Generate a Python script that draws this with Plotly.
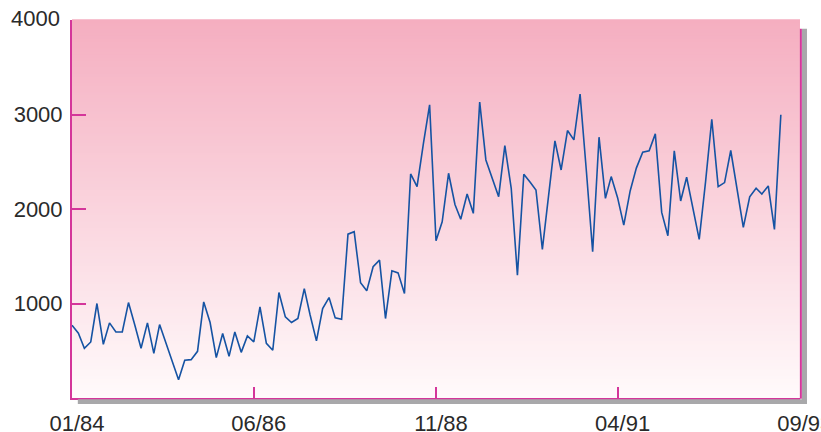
import pandas as pd
import plotly.graph_objects as go

# Monthly series, Jan 1984 – Jun 1993
start_month = "1984-01-01"
values = [
    769, 685, 526, 593, 1000, 568, 795, 699, 699, 1010,
    770, 526, 795, 473, 777, 579, 388, 194, 399, 406,
    494, 1017, 799, 427, 682, 441, 699, 483, 656, 593,
    964, 579, 505, 1116, 858, 799, 841, 1158, 881, 604,
    947, 1063, 848, 834, 1734, 1760, 1219, 1134, 1389, 1459,
    841, 1346, 1324, 1106, 2371, 2237, 2695, 3103, 1664, 1865,
    2378, 2048, 1891, 2159, 1954, 3131, 2519, 2322, 2130, 2671,
    2219, 1300, 2367, 2282, 2201, 1572, 2140, 2721, 2413, 2830,
    2732, 3216, 2392, 1547, 2760, 2113, 2343, 2120, 1830, 2191,
    2433, 2601, 2615, 2795, 1964, 1717, 2615, 2085, 2336, 1990,
    1678, 2292, 2950, 2237, 2279, 2619, 2191, 1806, 2130, 2219,
    2159, 2244, 1784, 2997,
]
months = pd.date_range(start_month, periods=len(values), freq="MS")

x_tick_dates = ["1984-01-01", "1986-06-01", "1988-11-01", "1991-04-01", "1993-09-01"]
x_tick_labels = ["01/84", "06/86", "11/88", "04/91", "09/93"]
x_range = ["1984-01-01", "1993-09-02"]
y_tick_vals = [1000, 2000, 3000]
y_tick_labels = ["1000", "2000", "3000"]
y_top_label = "4000"

AXIS = "#d4369a"
LINE = "#1553a3"
SHADOW = "#a8a8aa"
TXT = "#2a2a2a"
FONT = dict(family="Liberation Sans, Arial, sans-serif", size=22, color=TXT)

fig = go.Figure()
fig.add_trace(go.Scatter(
    x=months, y=values, mode="lines",
    line=dict(color=LINE, width=1.6),
    hoverinfo="skip", showlegend=False,
))

shapes = []
# vertical pink gradient behind the series
top_rgb = (245, 174, 192)
bot_rgb = (255, 250, 251)
n_bands = 120
for i in range(n_bands):
    f = (i + 0.5) / n_bands
    r, g, b = (round(bot_rgb[k] + (top_rgb[k] - bot_rgb[k]) * f) for k in range(3))
    shapes.append(dict(
        type="rect", xref="x domain", yref="y domain",
        x0=0, x1=1, y0=i / n_bands, y1=(i + 1) / n_bands + 0.002,
        fillcolor=f"rgb({r},{g},{b})", line=dict(width=0), layer="below",
    ))

# drop shadow to the right and below the frame
shapes.append(dict(type="rect", xref="x domain", yref="y domain",
                   x0=1.0027, x1=1.0096, y0=-0.016, y1=0.977,
                   fillcolor=SHADOW, line=dict(width=0), layer="above"))
shapes.append(dict(type="rect", xref="x domain", yref="y domain",
                   x0=0.008, x1=1.0096, y0=-0.016, y1=-0.003,
                   fillcolor=SHADOW, line=dict(width=0), layer="above"))
# right frame edge
shapes.append(dict(type="line", xref="x domain", yref="y domain",
                   x0=1.0012, x1=1.0012, y0=-0.002, y1=0.977,
                   line=dict(color=AXIS, width=2), layer="above"))

fig.update_layout(
    width=821, height=432,
    margin=dict(l=72, r=21, t=20, b=34),
    paper_bgcolor="white", plot_bgcolor="white",
    shapes=shapes,
    showlegend=False,
    font=FONT,
    annotations=[dict(
        text=y_top_label, xref="paper", yref="y", x=0, y=4000,
        xanchor="right", yanchor="middle", xshift=-10, yshift=2,
        showarrow=False, font=FONT,
    )],
)
fig.update_xaxes(
    type="date", range=x_range,
    tickvals=x_tick_dates, ticktext=x_tick_labels,
    ticks="inside", ticklen=11, tickwidth=1.5, tickcolor=AXIS,
    showline=True, linecolor=AXIS, linewidth=2,
    showgrid=False, zeroline=False, tickfont=FONT,
    automargin=False, ticklabelshift=5, ticklabelstandoff=5,
    ticklabeloverflow="allow",
)
fig.update_yaxes(
    range=[0, 4000],
    tickvals=y_tick_vals, ticktext=y_tick_labels,
    ticks="inside", ticklen=14, tickwidth=1.5, tickcolor=AXIS,
    showline=True, linecolor=AXIS, linewidth=2,
    showgrid=False, zeroline=False, tickfont=FONT,
    automargin=False, ticklabelstandoff=3,
)

fig.write_html("out.html")
